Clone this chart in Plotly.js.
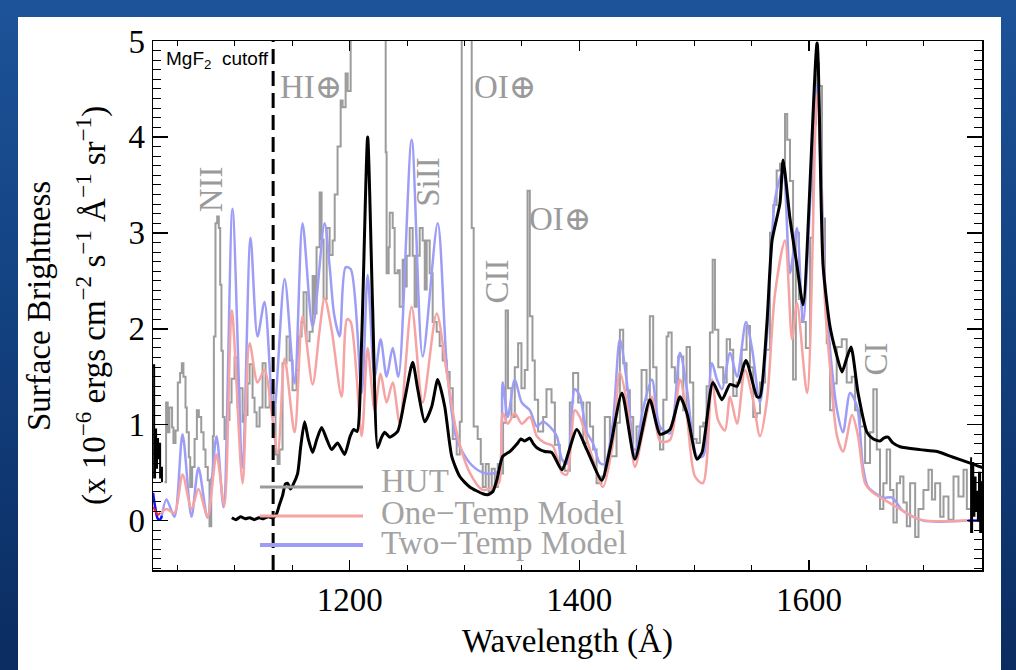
<!DOCTYPE html>
<html><head><meta charset="utf-8">
<script src="https://cdn.plot.ly/plotly-3.0.1.min.js"></script>
<style>
html,body{margin:0;padding:0;}
body{width:1016px;height:670px;overflow:hidden;position:relative;background:linear-gradient(180deg,#1d5399 0%,#134281 45%,#0b2c61 100%);}
#panel{position:absolute;left:18px;top:17px;width:983px;height:653px;background:#fff;}
#chart{position:absolute;left:0;top:0;width:1016px;height:670px;}
</style></head><body>
<div id="panel"></div><div id="chart"></div>
<script>
// ---- data (wavelength in Angstrom, surface brightness in 1e-6 ergs cm^-2 s^-1 A^-1 sr^-1) ----
const hutWave = [1038.8,1040.2,1041.6,1043.1,1045.4,1046.6,1048.4,1050.4,1052.4,1053.9,1055.3,1057.1,1058.2,1060.0,1061.2,1062.9,1065.0,1067.0,1068.7,1070.8,1072.8,1074.5,1076.5,1078.0,1079.5,1080.9,1081.8,1083.2,1084.7,1086.1,1087.3,1088.4,1089.6,1091.1,1093.0,1095.4,1097.2,1099.8,1102.4,1104.1,1106.8,1108.5,1111.1,1112.9,1115.5,1117.2,1119.0,1121.6,1124.2,1126.8,1130.3,1133.8,1135.5,1137.3,1139.0,1141.6,1145.1,1147.7,1150.3,1153.8,1155.6,1158.2,1159.9,1162.5,1165.1,1167.8,1169.5,1171.2,1173.9,1175.6,1177.3,1180.0,1182.6,1185.2,1187.0,1189.5,1192.2,1193.9,1196.5,1198.3,1200.9,1202.6,1229.6,1231.4,1232.2,1234.0,1234.9,1237.5,1239.2,1241.8,1243.6,1246.2,1247.9,1249.7,1252.3,1254.9,1256.6,1258.4,1261.0,1263.6,1265.4,1267.1,1269.7,1272.3,1275.8,1278.4,1281.0,1284.5,1287.1,1289.8,1293.2,1295.9,1297.6,1306.3,1308.0,1311.5,1314.2,1315.9,1318.5,1321.1,1323.7,1326.4,1329.0,1330.7,1333.6,1335.9,1337.9,1340.9,1343.8,1346.7,1349.6,1352.5,1354.9,1356.9,1359.2,1361.2,1364.1,1368.5,1371.4,1375.8,1378.7,1383.0,1387.4,1391.7,1394.6,1399.0,1403.4,1406.3,1409.2,1412.0,1415.0,1419.3,1422.2,1426.6,1432.4,1435.3,1438.2,1441.1,1444.0,1446.9,1449.8,1454.2,1458.5,1461.4,1464.3,1467.2,1470.2,1473.1,1476.0,1477.5,1480.4,1483.2,1486.1,1490.5,1493.4,1496.3,1499.2,1502.1,1505.0,1507.9,1510.8,1513.7,1516.1,1518.1,1521.0,1525.3,1528.3,1531.2,1534.0,1537.0,1541.3,1545.6,1548.6,1551.4,1554.4,1557.3,1561.7,1566.0,1568.9,1571.8,1574.7,1579.1,1581.0,1583.4,1586.1,1588.5,1591.2,1594.0,1597.2,1600.9,1603.5,1606.1,1608.7,1611.3,1613.9,1615.4,1618.3,1621.2,1624.1,1628.5,1632.8,1637.2,1640.1,1644.4,1648.8,1653.1,1656.0,1659.0,1661.8,1664.7,1667.6,1670.6,1673.5,1676.4,1679.3,1682.2,1685.1,1688.0,1692.4,1695.3,1699.6,1704.0,1707.0,1709.8,1714.2,1717.1,1721.4,1725.8,1730.1,1734.5,1737.4,1740.3];
const hutFlux = [0.40,1.23,0.92,1.18,0.97,0.81,0.94,1.44,1.54,1.64,1.50,1.18,0.92,0.66,0.35,0.56,0.85,1.15,1.08,0.92,0.74,0.56,0.42,-0.06,0.44,0.88,1.92,3.10,3.17,3.05,2.46,1.77,1.08,0.85,1.05,1.23,1.48,1.70,1.18,1.38,1.03,1.10,1.43,1.63,1.28,1.13,0.98,1.18,1.64,1.18,1.33,1.18,0.69,0.59,0.74,1.64,1.92,1.67,1.36,1.57,1.92,2.07,2.38,1.87,1.97,2.55,2.16,2.85,3.42,2.93,2.31,3.05,2.77,2.92,3.40,3.90,4.38,4.31,4.66,4.48,5.30,6.50,6.50,3.84,2.58,2.85,3.21,3.05,2.58,2.61,2.23,2.72,2.44,2.76,3.05,2.76,2.23,2.76,3.05,2.92,2.41,2.92,2.58,2.07,1.97,1.82,1.67,1.55,1.38,0.85,0.69,1.03,6.50,3.05,0.98,0.85,0.59,0.35,0.59,0.30,0.54,0.35,0.59,0.49,1.02,2.19,1.38,1.08,1.60,1.85,1.38,1.57,3.44,2.13,1.67,1.26,0.93,1.08,1.37,1.23,0.79,0.56,0.52,1.23,1.54,1.23,0.81,1.23,0.98,0.74,0.39,0.46,1.08,0.67,1.02,1.99,1.64,1.36,1.08,0.74,0.98,1.57,1.26,2.13,1.60,0.98,0.74,1.26,1.92,1.96,1.60,1.44,1.71,1.15,1.81,1.44,0.85,0.81,0.98,1.02,1.40,1.96,2.72,1.99,1.60,1.44,1.89,1.78,1.30,1.44,1.78,2.03,1.60,1.08,1.12,1.44,1.78,3.00,3.29,3.65,3.72,4.24,3.97,3.54,1.47,3.00,2.31,2.07,1.80,2.95,4.13,4.77,4.53,3.15,2.26,1.85,1.15,1.43,1.81,1.89,1.44,1.50,1.15,0.98,0.60,0.92,1.37,0.74,0.12,0.39,0.74,0.32,-0.02,0.39,0.46,0.19,-0.06,0.39,-0.17,0.12,0.32,0.53,0.22,0.39,0.04,0.25,0.01,0.46,0.25,0.53,0.12,0.12];

const oneTempWave = [1036.0,1040.5,1047.5,1054.5,1062.3,1068.4,1076.3,1084.1,1090.9,1097.4,1106.8,1112.9,1119.8,1125.9,1137.3,1143.4,1152.1,1159.0,1167.8,1173.9,1178.2,1184.3,1193.0,1197.8,1201.0,1210.5,1215.7,1221.8,1227.0,1232.2,1237.5,1243.6,1254.0,1263.6,1275.8,1284.5,1293.2,1304.6,1315.9,1324.6,1330.0,1333.3,1337.7,1343.8,1349.9,1356.9,1363.0,1369.9,1376.9,1384.8,1389.1,1396.1,1400.4,1406.5,1411.8,1420.5,1429.2,1435.3,1441.4,1448.4,1455.3,1463.2,1470.2,1478.9,1487.6,1493.7,1500.7,1507.6,1515.5,1520.7,1526.8,1531.2,1537.3,1544.2,1551.2,1557.3,1563.4,1570.4,1579.1,1585.2,1589.5,1598.3,1607.0,1613.9,1618.3,1624.4,1629.6,1637.5,1642.7,1648.8,1654.8,1667.9,1679.3,1696.7,1738.6];
const oneTempFlux = [0.08,0.12,0.08,0.48,0.12,0.33,0.04,0.69,0.15,2.19,0.39,1.85,1.44,1.57,0.71,1.69,0.92,2.13,1.42,1.99,2.32,1.99,1.29,2.10,2.07,0.88,1.80,1.15,1.53,1.23,1.44,1.02,2.23,1.23,2.16,1.55,0.92,0.50,0.32,0.35,0.39,1.12,1.01,1.12,1.01,1.08,0.88,0.81,0.78,0.50,0.48,1.15,1.08,0.85,0.64,0.35,0.81,1.55,1.23,0.56,0.92,1.29,0.83,0.84,1.47,1.08,0.46,0.39,1.47,1.05,0.94,1.29,1.01,1.57,1.26,0.88,1.26,2.37,2.92,1.89,2.27,1.33,4.45,2.27,1.60,0.88,0.72,1.10,0.88,0.39,0.30,0.20,0.12,0.01,0.00];

const twoTempWave = [1036.0,1040.5,1047.5,1054.5,1062.3,1068.4,1076.3,1084.1,1090.2,1098.0,1106.8,1113.7,1119.8,1125.9,1133.8,1143.4,1152.1,1159.0,1167.8,1178.2,1182.6,1186.5,1191.3,1196.5,1201.0,1210.5,1215.7,1221.8,1227.0,1232.2,1237.5,1242.5,1254.0,1263.6,1276.7,1285.0,1293.2,1304.6,1315.9,1324.6,1330.0,1333.3,1337.7,1343.8,1349.9,1356.9,1363.0,1368.2,1374.3,1380.4,1384.8,1389.1,1396.1,1400.4,1406.5,1411.8,1417.9,1422.2,1429.2,1435.3,1441.4,1448.4,1455.3,1463.2,1470.2,1478.9,1487.6,1493.7,1502.4,1507.6,1515.5,1519.8,1524.2,1531.2,1537.3,1545.1,1550.3,1557.3,1563.4,1570.4,1577.4,1583.4,1589.5,1594.8,1607.0,1613.9,1618.3,1624.4,1629.6,1635.7,1641.8,1647.0,1651.4,1664.5,1672.3,1681.9,1699.4,1738.6];
const twoTempFlux = [0.02,0.22,0.04,0.90,0.04,0.55,0.03,0.88,0.14,3.25,0.55,2.95,1.92,2.28,1.08,2.52,1.43,3.10,2.02,3.10,2.65,2.15,1.92,2.64,2.62,1.33,2.56,1.50,1.89,1.50,1.80,1.50,3.97,1.71,3.10,1.55,0.85,0.60,0.50,0.49,0.52,1.44,1.08,1.47,1.23,1.15,0.98,1.03,0.98,0.88,0.64,0.59,1.37,1.30,0.92,0.81,0.60,0.59,1.02,1.89,1.44,0.67,1.15,1.47,0.98,0.91,1.75,1.37,0.67,0.67,1.64,1.47,1.37,1.75,1.50,2.07,1.80,1.23,1.93,3.35,3.65,2.58,3.05,2.07,4.55,2.48,1.78,1.15,0.92,1.33,1.19,0.56,0.35,0.24,0.24,0.10,0.00,0.00];

// unlabeled black spectrum
const blackWave = [1097.4,1101,1105,1109,1113,1117,1121,1125,1129,1133,1136,1139,1141.6,1144,1146,1148.5,1151,1154.7,1157.5,1160.8,1164,1167.8,1171.5,1175.6,1180,1184.3,1189.5,1195.6,1200.5,1203.5,1206.5,1210.5,1215.7,1220.0,1224.4,1227.5,1230.5,1234.9,1241.8,1247.9,1254.9,1259.3,1265.4,1271.5,1276.7,1282.8,1288.9,1295.9,1304.6,1315.9,1320,1324.6,1328.1,1333.3,1339.4,1346.4,1349,1352.5,1356.9,1360,1363,1369.9,1376,1384.8,1397.8,1406.5,1419.6,1426.6,1437.1,1448.4,1461.4,1470.2,1478.9,1487.6,1493.7,1502.4,1506.8,1516.3,1524.2,1531.2,1537.3,1545.1,1554.7,1557.3,1563.4,1567.8,1574.7,1577.4,1583.4,1589.5,1594.8,1607.0,1612.2,1618.3,1623.5,1628.7,1633,1636.6,1642.7,1650.5,1656,1661.8,1665,1668.8,1673,1679.3,1696.7,1711.6,1725.5,1740.3,1751.6];
const blackFlux = [0.03,0.01,0.04,0.02,0.03,0.01,0.03,0.02,0.04,0.03,0.06,0.17,0.26,0.38,0.39,0.33,0.38,0.49,0.78,1.03,0.85,0.71,0.85,0.97,0.85,0.74,0.81,0.69,0.88,0.95,0.93,1.89,4.00,2.23,0.76,0.86,0.92,0.87,0.93,1.26,1.65,1.37,1.03,1.19,1.47,1.19,0.67,0.46,0.35,0.28,0.27,0.30,0.42,0.67,0.72,0.81,0.85,0.83,0.86,0.80,0.76,0.72,0.71,0.53,0.95,0.74,0.42,0.74,1.33,0.64,1.26,0.90,0.95,1.29,1.12,0.64,0.71,1.44,1.26,1.42,1.40,1.67,1.29,1.29,2.07,2.92,3.31,3.76,3.15,2.66,2.25,4.98,2.66,2.02,1.75,1.55,1.70,1.81,1.33,0.92,0.85,0.83,0.86,0.87,0.81,0.77,0.74,0.72,0.66,0.60,0.55];
// noisy black data at the two edges
const blackEdgeLeftWave = [1028.8,1029.8,1030.6,1031.5,1032.3,1033.2,1034.1,1035.0,1035.8,1036.6];
const blackEdgeLeftFlux = [1.62,0.45,0.95,0.55,0.85,0.65,0.80,0.45,0.55,0.40];
const blackEdgeRightWave = [1740.3,1741.1,1742.0,1743.0,1744.0,1745.0,1746.0,1747.0,1748.0,1749.0,1750.0,1750.6];
const blackEdgeRightFlux = [0.65,-0.12,0.60,0.05,0.45,0.10,0.30,0.00,0.50,-0.12,0.40,0.10];
// darker model segments at the edges
const darkBlueLeftWave = [1028.8,1031.0,1033.0,1035.0,1036.5];
const darkBlueLeftFlux = [0.29,0.12,0.02,0.01,0.05];
const darkRedLeftWave = [1028.8,1031.0,1033.0,1035.0];
const darkRedLeftFlux = [0.14,0.10,0.06,0.08];
const darkBlueRightWave = [1738.6,1750.6];
const darkBlueRightFlux = [0.00,0.00];

const mgf2Cutoff = 1133.4;
const seriesNames = ['HUT','One\u2212Temp Model','Two\u2212Temp Model'];
const seriesColors = ['#9c9c9c','#f5a3a3','#9d9df7'];
// feature labels
const lineLabelText  = ['NII','HI\u2295','SiII','OI\u2295','OI\u2295','CII','CI'];
const lineLabelWave  = [1078.9,1166.0,1268.0,1335.1,1383.0,1328.1,1658.4];
const lineLabelFlux  = [3.45,4.52,3.53,4.52,3.14,2.49,1.68];
const lineLabelAngle = [-90,0,-90,0,0,-90,-90];

const serif = '"Liberation Serif", "Nimbus Roman", "Times New Roman", "DejaVu Serif", serif';
const sans = '"Liberation Sans", Arial, "DejaVu Sans", sans-serif';
const traces = [
  {x:hutWave, y:hutFlux, mode:'lines', line:{color:seriesColors[0], width:2, shape:'hv'}},
  {x:twoTempWave, y:twoTempFlux, mode:'lines', line:{color:seriesColors[2], width:2.5, shape:'spline', smoothing:0.8}},
  {x:oneTempWave, y:oneTempFlux, mode:'lines', line:{color:seriesColors[1], width:2.5, shape:'spline', smoothing:0.8}},
  {x:darkBlueLeftWave, y:darkBlueLeftFlux, mode:'lines', line:{color:'#1010ff', width:2.5, shape:'spline'}},
  {x:darkRedLeftWave, y:darkRedLeftFlux, mode:'lines', line:{color:'#ff2020', width:2, shape:'spline'}},
  {x:darkBlueRightWave, y:darkBlueRightFlux, mode:'lines', line:{color:'#1010ff', width:2.5}},
  {x:blackWave, y:blackFlux, mode:'lines', line:{color:'#000', width:3, shape:'spline', smoothing:0.6}},
  {x:blackEdgeLeftWave, y:blackEdgeLeftFlux, mode:'lines', line:{color:'#000', width:2, shape:'hv'}},
  {x:blackEdgeRightWave, y:blackEdgeRightFlux, mode:'lines', line:{color:'#000', width:2, shape:'hv'}}
];

const annotations = [];
for (let i=0;i<lineLabelText.length;i++){
  annotations.push({xref:'x', yref:'y', x:lineLabelWave[i], y:lineLabelFlux[i], text:lineLabelText[i], textangle:lineLabelAngle[i], showarrow:false, xanchor:'center', yanchor:'middle', font:{family:serif, size:33, color:'#9a9a9a'}});
}
annotations.push({xref:'x', yref:'y', x:1038.2, y:4.80, xanchor:'left', yanchor:'middle', showarrow:false, text:'MgF<sub>2</sub>  cutoff', font:{family:sans, size:19, color:'#000'}});
// y axis title (two lines)
annotations.push({xref:'paper', yref:'paper', x:-0.1375, y:0.499, xanchor:'center', yanchor:'middle', textangle:-90, showarrow:false, text:'Surface Brightness', font:{family:serif, size:33, color:'#000'}});
annotations.push({xref:'paper', yref:'paper', x:-0.0736, y:0.501, xanchor:'center', yanchor:'middle', textangle:-90, showarrow:false, text:'(x 10<sup>\u22126</sup> ergs cm<sup>\u22122</sup> s<sup>\u22121</sup> \u00c5<sup>\u22121</sup> sr<sup>\u22121</sup>)', font:{family:serif, size:33, color:'#000'}});
// manual legend
const legY = [0.1569, 0.1021, 0.0473];
const legTextY = [0.168, 0.108, 0.051];
const shapes = [
  {type:'line', xref:'x', yref:'paper', x0:mgf2Cutoff, x1:mgf2Cutoff, y0:0, y1:1, line:{color:'#000', width:3, dash:'15px,7px'}}
];
[0,1,2].forEach((k,i)=>{
  shapes.push({type:'line', xref:'paper', yref:'paper', x0:0.129, x1:0.2533, y0:legY[i], y1:legY[i], line:{color:seriesColors[k], width:i===2?4:3}});
  annotations.push({xref:'paper', yref:'paper', x:0.273, y:legTextY[i], xanchor:'left', yanchor:'middle', showarrow:false, text:seriesNames[k], font:{family:serif, size:33, color:'#a3a3a3'}});
});

const axisFont = {family:serif, size:33, color:'#000'};
const layout = {
  width:1016, height:670,
  margin:{l:153, r:34, t:41, b:100},
  paper_bgcolor:'rgba(0,0,0,0)', plot_bgcolor:'rgba(0,0,0,0)',
  font:{family:serif},
  showlegend:false,
  xaxis:{range:[1028.8,1750.6], tickmode:'linear', tick0:1200, dtick:200, ticks:'inside', ticklen:10, tickwidth:1.5, tickcolor:'#000',
    showline:true, linecolor:'#000', linewidth:1.5, mirror:'ticks', showgrid:false, zeroline:false, tickfont:axisFont,
    minor:{tick0:1000, dtick:50, ticks:'inside', ticklen:5, tickwidth:1, tickcolor:'#000', showgrid:false},
    title:{text:'Wavelength (\u00c5)', font:axisFont, standoff:12}},
  yaxis:{range:[-0.515,5.0], tickmode:'linear', tick0:0, dtick:1, ticks:'inside', ticklen:15, tickwidth:1.5, tickcolor:'#000',
    showline:true, linecolor:'#000', linewidth:1.5, mirror:'ticks', showgrid:false, zeroline:false, tickfont:axisFont,
    minor:{tick0:0, dtick:0.1, ticks:'inside', ticklen:8, tickwidth:1, tickcolor:'#000', showgrid:false}},
  shapes:shapes,
  annotations:annotations
};
Plotly.newPlot('chart', traces, layout, {displayModeBar:false, staticPlot:true});
</script></body></html>
